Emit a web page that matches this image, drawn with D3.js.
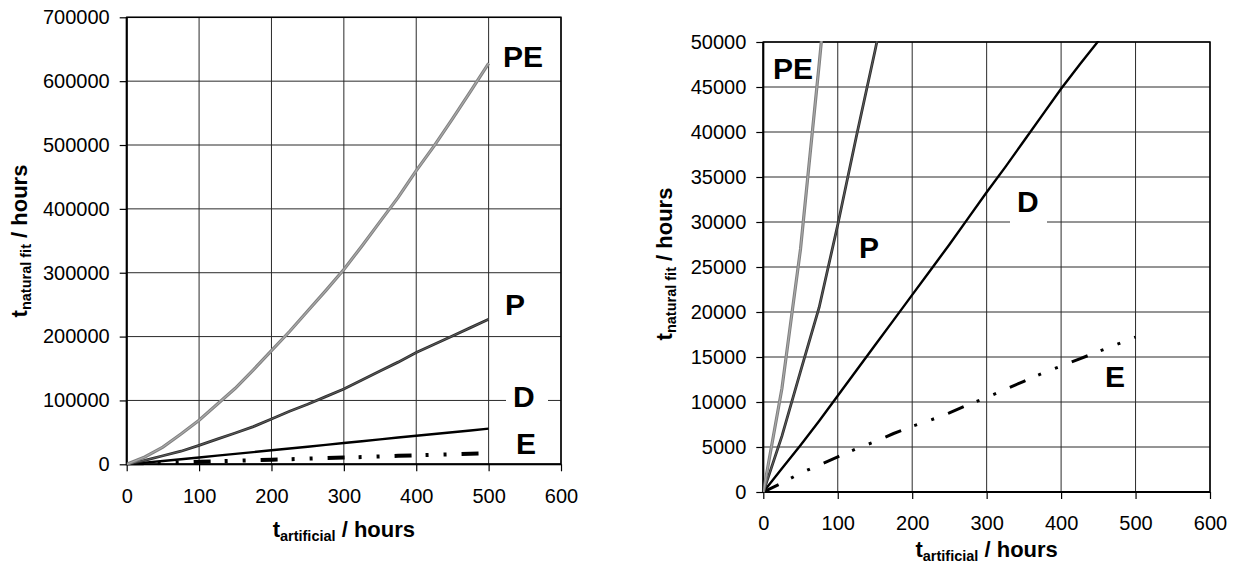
<html>
<head>
<meta charset="utf-8">
<script src="https://d3js.org/d3.v7.min.js"></script>
<style>
  body { margin: 0; background: #fff; }
  text { font-family: "Liberation Sans", Arial, sans-serif; }
</style>
</head>
<body>
<svg id="page"></svg>
<script>

// data (hours of artificial ageing -> fitted natural hours)
var hours = [0, 25, 50, 75, 100, 125, 150, 175, 200, 225, 250, 275, 300, 325, 350, 375, 400, 425, 450, 475, 500];
var pe = [0, 11500, 27000, 47500, 69000, 94000, 119000, 148000, 178000, 208000, 240000, 272000, 305000, 342000, 380000, 418000, 460000, 499000, 541000, 584000, 628000];
var p = [0, 6200, 13400, 20500, 29700, 39500, 49000, 59000, 71000, 83000, 94000, 106000, 118000, 132000, 146000, 160000, 175000, 188000, 201000, 214000, 227000];
var d = [0, 2600, 5200, 7900, 10700, 13500, 16300, 19100, 21900, 24700, 27500, 30400, 33300, 36100, 39000, 41900, 44800, 47500, 50100, 53000, 55800];
var e = [0, 1000, 2100, 3000, 3900, 4800, 5600, 6500, 7300, 8000, 8800, 9700, 10500, 11400, 12300, 13200, 14000, 14800, 15600, 16400, 17200];
var seriesNames = ["PE", "P", "D", "E"];
var xTicks = [0, 100, 200, 300, 400, 500, 600];
var yTicksLeft = [0, 100000, 200000, 300000, 400000, 500000, 600000, 700000];
var yTicksRight = [0, 5000, 10000, 15000, 20000, 25000, 30000, 35000, 40000, 45000, 50000];

var svg = d3.select("#page").attr("width", 1238).attr("height", 568);

function drawChart(cfg) {
  var g = svg.append("g");
  var x = d3.scaleLinear().domain([0, 600]).range([cfg.left, cfg.right]);
  var y = d3.scaleLinear().domain([0, cfg.ymax]).range([cfg.bottom, cfg.top]);

  // grid
  g.selectAll(".hg").data(cfg.yTicks).enter().append("line")
    .attr("x1", cfg.left).attr("x2", cfg.right)
    .attr("y1", function(v){ return y(v); }).attr("y2", function(v){ return y(v); })
    .attr("stroke", "#2a2a2a").attr("stroke-width", 1);
  g.selectAll(".vg").data(xTicks).enter().append("line")
    .attr("y1", cfg.top).attr("y2", cfg.bottom)
    .attr("x1", function(v){ return x(v); }).attr("x2", function(v){ return x(v); })
    .attr("stroke", "#2a2a2a").attr("stroke-width", 1);

  // axes
  var yAxis = d3.axisLeft(y).tickValues(cfg.yTicks).tickSize(7).tickPadding(10).tickFormat(d3.format("d"));
  var ya = g.append("g").attr("transform", "translate(" + cfg.left + ",0)").call(yAxis);
  var xAxis = d3.axisBottom(x).tickValues(xTicks).tickSize(7).tickPadding(cfg.xPad).tickFormat(d3.format("d"));
  var xa = g.append("g").attr("transform", "translate(0," + cfg.bottom + ")").call(xAxis);
  [ya, xa].forEach(function(a){
    a.select(".domain").remove();
    a.selectAll("line").attr("stroke", "#000").attr("stroke-width", 1.2);
    a.selectAll("text").attr("fill", "#000").style("font-size", "20px");
  });

  // frame
  g.append("rect").attr("x", cfg.left).attr("y", cfg.top)
    .attr("width", cfg.right - cfg.left).attr("height", cfg.bottom - cfg.top)
    .attr("fill", "none").attr("stroke", "#000").attr("stroke-width", 1.5);
  g.append("line").attr("x1", cfg.left).attr("x2", cfg.left).attr("y1", cfg.top).attr("y2", cfg.bottom + 1)
    .attr("stroke", "#000").attr("stroke-width", 2);
  g.append("line").attr("x1", cfg.left).attr("x2", cfg.right).attr("y1", cfg.bottom).attr("y2", cfg.bottom)
    .attr("stroke", "#000").attr("stroke-width", 2);

  // clip for the zoomed chart
  var clipId = "clip" + cfg.id;
  svg.append("clipPath").attr("id", clipId).append("rect")
    .attr("x", cfg.left).attr("y", cfg.top - 1)
    .attr("width", cfg.right - cfg.left).attr("height", cfg.bottom - cfg.top + 2);
  var lines = g.append("g").attr("clip-path", "url(#" + clipId + ")");

  var line = d3.line().x(function(v, i){ return x(hours[i]); }).y(function(v){ return y(v); });

  // E - dash dot dot
  lines.append("path").datum(e).attr("d", line).attr("fill", "none")
    .attr("stroke", "#000").attr("stroke-width", cfg.eWidth)
    .attr("stroke-dasharray", "17,14,3,15,3,15");
  // D
  lines.append("path").datum(d).attr("d", line).attr("fill", "none")
    .attr("stroke", "#000").attr("stroke-width", 2.4);
  // P
  lines.append("path").datum(p).attr("d", line).attr("fill", "none")
    .attr("stroke", "#2e2e2e").attr("stroke-width", 2.8);
  lines.append("path").datum(p).attr("d", line).attr("fill", "none")
    .attr("stroke", "#6a6a6a").attr("stroke-width", 0.8);
  // PE
  lines.append("path").datum(pe).attr("d", line).attr("fill", "none")
    .attr("stroke", "#808080").attr("stroke-width", 3.2);
  lines.append("path").datum(pe).attr("d", line).attr("fill", "none")
    .attr("stroke", "#a8a8a8").attr("stroke-width", 1.2);

  // series labels
  cfg.labels.forEach(function(l, i){
    if (l.box) {
      g.append("rect").attr("x", l.box[0]).attr("y", l.box[1])
        .attr("width", l.box[2]).attr("height", l.box[3]).attr("fill", "#fff");
    }
    g.append("text").attr("x", l.x).attr("y", l.y)
      .style("font-size", "30px").style("font-weight", "bold")
      .text(seriesNames[i]);
  });

  // axis titles
  var xt = g.append("text").attr("x", (cfg.left + cfg.right) / 2).attr("y", cfg.xTitleY)
    .attr("text-anchor", "middle").style("font-size", "22px").style("font-weight", "bold");
  xt.append("tspan").text("t");
  xt.append("tspan").attr("dy", 4).style("font-size", "14.5px").text("artificial");
  xt.append("tspan").attr("dy", -4).text(" / hours");

  var yt = g.append("text")
    .attr("transform", "translate(" + cfg.yTitleX + "," + cfg.yTitleY + ") rotate(-90)")
    .attr("text-anchor", "middle").style("font-size", "22px").style("font-weight", "bold");
  yt.append("tspan").text("t");
  yt.append("tspan").attr("dy", 4).style("font-size", "14.5px").text("natural fit");
  yt.append("tspan").attr("dy", -4).text(" / hours");
}

drawChart({
  id: "L", left: 126.7, right: 561, top: 17.3, bottom: 464.3, ymax: 700000,
  yTicks: yTicksLeft, eWidth: 4, xPad: 18, xTitleY: 537, yTitleX: 27, yTitleY: 241,
  labels: [
    {x: 503, y: 67},
    {x: 505, y: 315},
    {x: 513, y: 407, box: [506, 386, 42, 24]},
    {x: 516, y: 454}
  ]
});

drawChart({
  id: "R", left: 763.3, right: 1210, top: 42, bottom: 492, ymax: 50000,
  yTicks: yTicksRight, eWidth: 3, xPad: 17, xTitleY: 557, yTitleX: 672, yTitleY: 264,
  labels: [
    {x: 773, y: 79},
    {x: 859, y: 258},
    {x: 1017, y: 212, box: [1010, 189, 37, 36]},
    {x: 1105, y: 387}
  ]
});

</script>
</body>
</html>
